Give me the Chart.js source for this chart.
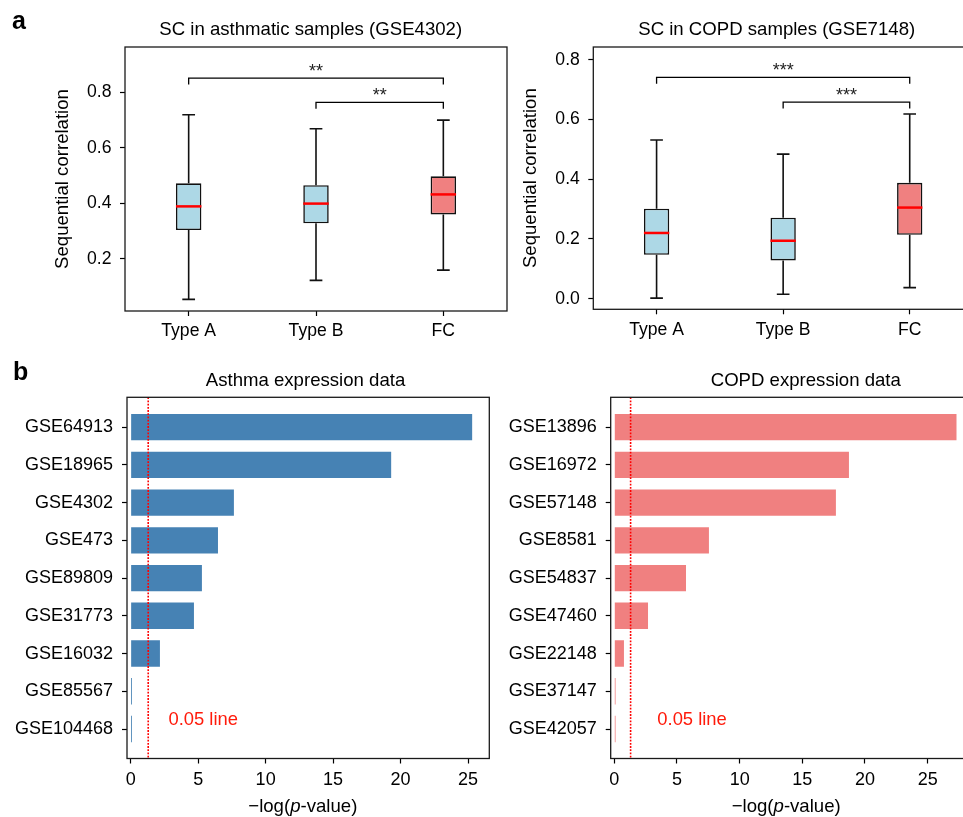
<!DOCTYPE html>
<html>
<head>
<meta charset="utf-8">
<title>Sequential correlation and expression data</title>
<script src="https://cdn.jsdelivr.net/npm/chart.js@4.4.1/dist/chart.umd.min.js"></script>
<style>
  html, body { margin: 0; padding: 0; background: #fff; }
  body { width: 963px; height: 817px; position: relative; overflow: hidden; }
  .panel { position: absolute; }
</style>
</head>
<body>
<div class="panel" style="left:0px;top:0px;width:510px;height:350px"><canvas id="scAsthma"></canvas></div>
<div class="panel" style="left:510px;top:0px;width:470px;height:350px"><canvas id="scCopd"></canvas></div>
<div class="panel" style="left:0px;top:360px;width:495px;height:457px"><canvas id="expAsthma"></canvas></div>
<div class="panel" style="left:495px;top:360px;width:485px;height:457px"><canvas id="expCopd"></canvas></div>
<script>
// --- data ---------------------------------------------------------------
const groups = ['Type A', 'Type B', 'FC'];
const boxColors = ['#add8e6', '#add8e6', '#f08080'];

// SC in asthmatic samples (GSE4302)
const asthmaMin = [0.055, 0.123, 0.160];
const asthmaQ1  = [0.304, 0.328, 0.360];
const asthmaMed = [0.389, 0.399, 0.432];
const asthmaQ3  = [0.472, 0.465, 0.497];
const asthmaMax = [0.718, 0.668, 0.699];
const asthmaSigFrom = ['Type A', 'Type B'];
const asthmaSigTo   = ['FC', 'FC'];
const asthmaSigY    = [0.850, 0.763];
const asthmaSigText = ['**', '**'];

// SC in COPD samples (GSE7148)
const copdMin = [0.002, 0.015, 0.037];
const copdQ1  = [0.147, 0.128, 0.214];
const copdMed = [0.220, 0.194, 0.305];
const copdQ3  = [0.301, 0.271, 0.388];
const copdMax = [0.531, 0.484, 0.618];
const copdSigFrom = ['Type A', 'Type B'];
const copdSigTo   = ['FC', 'FC'];
const copdSigY    = [0.741, 0.658];
const copdSigText = ['***', '***'];

// expression data, -log(p-value)
const asthmaSets = ['GSE64913', 'GSE18965', 'GSE4302', 'GSE473', 'GSE89809', 'GSE31773', 'GSE16032', 'GSE85567', 'GSE104468'];
const asthmaLogP = [25.3, 19.3, 7.65, 6.47, 5.28, 4.69, 2.17, 0.1, 0.1];
const copdSets = ['GSE13896', 'GSE16972', 'GSE57148', 'GSE8581', 'GSE54837', 'GSE47460', 'GSE22148', 'GSE37147', 'GSE42057'];
const copdLogP = [27.3, 18.72, 17.68, 7.55, 5.72, 2.69, 0.77, 0.1, 0.1];
const pCutoff = -Math.log10(0.05);

// --- look ---------------------------------------------------------------
const FONT = '"Liberation Sans", Arial, Helvetica, sans-serif';
Chart.defaults.font.family = FONT;
Chart.defaults.font.size = 18;
Chart.defaults.color = '#000';

const tickGrid = { drawOnChartArea: false, offset: false, tickLength: 5, tickWidth: 1.2, tickColor: '#000' };

// box around the plot area
const frame = {
  id: 'frame',
  afterDraw(chart) {
    const { ctx, chartArea: a } = chart;
    ctx.save();
    ctx.strokeStyle = '#1a1a1a';
    ctx.lineWidth = 1.3;
    ctx.strokeRect(a.left, a.top, a.right - a.left, a.bottom - a.top);
    ctx.restore();
  }
};

// panel title (+ panel letter)
function heading(text, x, y, letter, lx, ly) {
  return {
    id: 'heading',
    afterDraw(chart) {
      const ctx = chart.ctx;
      ctx.save();
      ctx.fillStyle = '#000';
      ctx.textBaseline = 'alphabetic';
      if (letter) {
        ctx.font = 'bold 25px ' + FONT;
        ctx.textAlign = 'left';
        ctx.fillText(letter, lx, ly);
      }
      ctx.font = '18.6px ' + FONT;
      ctx.textAlign = 'center';
      ctx.fillText(text, x, y);
      ctx.restore();
    }
  };
}

// whiskers, caps and median on top of the floating q1-q3 bars
function boxPlot(mins, meds, maxs, q1, q3) {
  return {
    id: 'boxplot',
    beforeDatasetsDraw(chart) {
      const { ctx, scales: { y } } = chart;
      ctx.save();
      ctx.strokeStyle = '#111';
      ctx.lineWidth = 1.6;
      chart.getDatasetMeta(0).data.forEach((bar, i) => {
        const cap = bar.width / 4;
        const yMax = y.getPixelForValue(maxs[i]), yMin = y.getPixelForValue(mins[i]);
        ctx.beginPath();
        ctx.moveTo(bar.x, yMax); ctx.lineTo(bar.x, y.getPixelForValue(q3[i]));
        ctx.moveTo(bar.x, y.getPixelForValue(q1[i])); ctx.lineTo(bar.x, yMin);
        ctx.moveTo(bar.x - cap, yMax); ctx.lineTo(bar.x + cap, yMax);
        ctx.moveTo(bar.x - cap, yMin); ctx.lineTo(bar.x + cap, yMin);
        ctx.stroke();
      });
      ctx.restore();
    },
    afterDatasetsDraw(chart) {
      const { ctx, scales: { y } } = chart;
      ctx.save();
      ctx.strokeStyle = '#ff0000';
      ctx.lineWidth = 2.5;
      chart.getDatasetMeta(0).data.forEach((bar, i) => {
        const ym = y.getPixelForValue(meds[i]);
        ctx.beginPath();
        ctx.moveTo(bar.x - bar.width / 2, ym);
        ctx.lineTo(bar.x + bar.width / 2, ym);
        ctx.stroke();
      });
      ctx.restore();
    }
  };
}

// significance brackets
function brackets(from, to, ys, texts) {
  return {
    id: 'brackets',
    afterDraw(chart) {
      const { ctx, scales: { x, y } } = chart;
      ctx.save();
      ctx.strokeStyle = '#000';
      ctx.lineWidth = 1.3;
      ctx.fillStyle = '#222';
      ctx.font = '18px ' + FONT;
      ctx.textAlign = 'center';
      ctx.textBaseline = 'alphabetic';
      from.forEach((f, i) => {
        const x1 = x.getPixelForValue(groups.indexOf(f));
        const x2 = x.getPixelForValue(groups.indexOf(to[i]));
        const yy = y.getPixelForValue(ys[i]);
        ctx.beginPath();
        ctx.moveTo(x1, yy + 6.5); ctx.lineTo(x1, yy); ctx.lineTo(x2, yy); ctx.lineTo(x2, yy + 6.5);
        ctx.stroke();
        ctx.fillText(texts[i], (x1 + x2) / 2, yy - 1.5);
      });
      ctx.restore();
    }
  };
}

// dotted p = 0.05 line with its label
function cutoffLine(labelX, labelY) {
  return {
    id: 'cutoff',
    afterDatasetsDraw(chart) {
      const { ctx, chartArea: a, scales: { x, y } } = chart;
      const px = x.getPixelForValue(pCutoff);
      ctx.save();
      ctx.strokeStyle = '#ff0000';
      ctx.lineWidth = 1.6;
      ctx.setLineDash([1.8, 1.4]);
      ctx.beginPath();
      ctx.moveTo(px, a.top); ctx.lineTo(px, a.bottom);
      ctx.stroke();
      ctx.setLineDash([]);
      ctx.fillStyle = '#ff1a0a';
      ctx.font = '18.4px ' + FONT;
      ctx.textAlign = 'left';
      ctx.textBaseline = 'alphabetic';
      ctx.fillText('0.05 line', x.getPixelForValue(labelX), y.getPixelForValue(labelY));
      ctx.restore();
    }
  };
}

// x axis label with italic p
function pLabel(cx, baseline) {
  return {
    id: 'plabel',
    afterDraw(chart) {
      const ctx = chart.ctx;
      const parts = [['\u2212log(', '18.6px '], ['p', 'italic 18.6px '], ['-value)', '18.6px ']];
      ctx.save();
      ctx.fillStyle = '#000';
      ctx.textAlign = 'left';
      ctx.textBaseline = 'alphabetic';
      let total = 0;
      parts.forEach(p => { ctx.font = p[1] + FONT; total += ctx.measureText(p[0]).width; });
      let xx = cx - total / 2;
      parts.forEach(p => {
        ctx.font = p[1] + FONT;
        ctx.fillText(p[0], xx, baseline);
        xx += ctx.measureText(p[0]).width;
      });
      ctx.restore();
    }
  };
}

function boxChart(id, s) {
  return new Chart(document.getElementById(id), {
    type: 'bar',
    data: {
      labels: groups,
      datasets: [{
        data: s.q1.map((v, i) => [v, s.q3[i]]),
        backgroundColor: boxColors,
        borderColor: '#111',
        borderWidth: 1.6,
        borderSkipped: false,
        barPercentage: 0.2,
        categoryPercentage: 1
      }]
    },
    options: {
      responsive: true,
      maintainAspectRatio: false,
      animation: false,
      layout: { padding: { top: 47, right: s.padRight } },
      scales: {
        x: {
          offset: true,
          grid: tickGrid,
          border: { display: false },
          ticks: { font: { size: 17.6 }, padding: 5, maxRotation: 0 },
          afterFit: sc => { sc.height = s.xAxisH; }
        },
        y: {
          min: s.yMin,
          max: s.yMax,
          grid: tickGrid,
          border: { display: false },
          ticks: { stepSize: 0.2, includeBounds: false, font: { size: 17.6 }, padding: 8.5, callback: v => v.toFixed(1) },
          title: { display: true, text: 'Sequential correlation', font: { size: 18.6 }, padding: { top: s.yTitlePad, bottom: 0 } },
          afterFit: sc => { sc.width = s.yAxisW; }
        }
      },
      plugins: { legend: { display: false }, tooltip: { enabled: false } }
    },
    plugins: [frame, heading(s.title, s.titleX, 34.8, s.letter, 12, 29),
      boxPlot(s.min, s.med, s.max, s.q1, s.q3), brackets(s.sigFrom, s.sigTo, s.sigY, s.sigText)]
  });
}

function expChart(id, s) {
  return new Chart(document.getElementById(id), {
    type: 'bar',
    data: {
      datasets: [{
        data: s.values.map((v, i) => ({ x: v, y: i })),
        backgroundColor: s.color,
        borderWidth: 0,
        barPercentage: 0.7,
        categoryPercentage: 1
      }]
    },
    options: {
      indexAxis: 'y',
      responsive: true,
      maintainAspectRatio: false,
      animation: false,
      layout: { padding: { top: 37.3, right: s.padRight } },
      scales: {
        x: {
          type: 'linear',
          min: s.xMin,
          max: s.xMax,
          grid: tickGrid,
          border: { display: false },
          ticks: { stepSize: 5, includeBounds: false, padding: 5.5, maxRotation: 0 },
          afterFit: sc => { sc.height = 58.5; }
        },
        y: {
          type: 'linear',
          reverse: true,
          offset: false,
          min: -0.79,
          max: 8.78,
          grid: tickGrid,
          border: { display: false },
          ticks: { stepSize: 1, includeBounds: false, autoSkip: false, padding: 9, callback: v => s.labels[v] },
          afterFit: sc => { sc.width = s.yAxisW; }
        }
      },
      plugins: { legend: { display: false }, tooltip: { enabled: false } }
    },
    plugins: [frame, heading(s.title, s.titleX, 26, s.letter, 13, 20),
      cutoffLine(s.noteX, 7.89), pLabel(s.xLabelX, 452)]
  });
}

boxChart('scAsthma', {
  title: 'SC in asthmatic samples (GSE4302)', titleX: 310.7, letter: 'a',
  min: asthmaMin, q1: asthmaQ1, med: asthmaMed, q3: asthmaQ3, max: asthmaMax,
  sigFrom: asthmaSigFrom, sigTo: asthmaSigTo, sigY: asthmaSigY, sigText: asthmaSigText,
  yMin: 0.0131, yMax: 0.9617, yAxisW: 125, xAxisH: 39, padRight: 3, yTitlePad: 52.2
});

boxChart('scCopd', {
  title: 'SC in COPD samples (GSE7148)', titleX: 266.7, letter: '',
  min: copdMin, q1: copdQ1, med: copdMed, q3: copdQ3, max: copdMax,
  sigFrom: copdSigFrom, sigTo: copdSigTo, sigY: copdSigY, sigText: copdSigText,
  yMin: -0.0355, yMax: 0.8425, yAxisW: 83.3, xAxisH: 40.7, padRight: 7, yTitlePad: 10.2
});

expChart('expAsthma', {
  title: 'Asthma expression data', titleX: 305.5, letter: 'b',
  labels: asthmaSets, values: asthmaLogP, color: '#4682b4',
  xMin: -0.27, xMax: 26.57, yAxisW: 127, padRight: 5.7, noteX: 2.8, xLabelX: 302.8
});

expChart('expCopd', {
  title: 'COPD expression data', titleX: 310.8, letter: '',
  labels: copdSets, values: copdLogP, color: '#f08080',
  xMin: -0.287, xMax: 28.68, yAxisW: 115.7, padRight: 6.2, noteX: 3.43, xLabelX: 291.2
});
</script>
</body>
</html>
